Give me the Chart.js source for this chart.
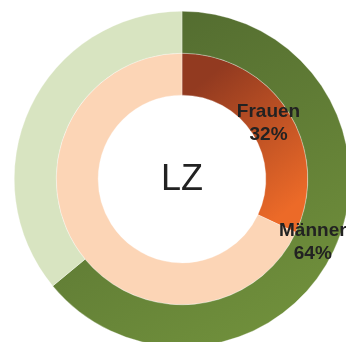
<!DOCTYPE html>
<html>
<head>
<meta charset="utf-8">
<script src="https://cdn.jsdelivr.net/npm/chart.js@4.4.1/dist/chart.umd.min.js"></script>
<style>
    html, body {
        margin: 0;
        padding: 0;
        width: 346px;
        height: 342px;
        overflow: hidden;
        background: #ffffff;
    }
    #ringChart {
        position: absolute;
        left: 14px;
        top: 11px;
    }
</style>
</head>
<body>
<canvas id="ringChart" width="336" height="336"></canvas>
<script>
// Share of men (outer ring) and women (inner ring)
const categories = ['Männer', 'Frauen'];
const menValues = [64, 36];
const womenValues = [32, 68];
const centerLabel = 'LZ';

const fontFamily = 'Arial, "Liberation Sans", Helvetica, sans-serif';

// Diagonal gradients for the highlighted segments
function greenFill(context) {
    const chart = context.chart;
    const area = chart.chartArea;
    if (!area) return '#62803a';
    if (context.dataIndex !== 0) return '#d8e4c1';
    const g = chart.ctx.createLinearGradient(area.left + 150, area.top, area.left + 320, area.top + 300);
    g.addColorStop(0, '#536c30');
    g.addColorStop(1, '#71913c');
    return g;
}

function orangeFill(context) {
    const chart = context.chart;
    const area = chart.chartArea;
    if (!area) return '#c8552a';
    if (context.dataIndex !== 0) return '#fcd5b6';
    const g = chart.ctx.createLinearGradient(area.left + 172, area.top + 84, area.left + 268, area.top + 204);
    g.addColorStop(0, '#923a20');
    g.addColorStop(1, '#ec6a28');
    return g;
}

// Label on the first segment of each ring: name + percentage
const segmentLabels = {
    id: 'segmentLabels',
    afterDatasetsDraw(chart) {
        const ctx = chart.ctx;
        const names = [categories[0], categories[1]];
        ctx.save();
        ctx.font = 'bold 19px ' + fontFamily;
        ctx.fillStyle = '#222222';
        ctx.textAlign = 'center';
        ctx.textBaseline = 'middle';
        chart.data.datasets.forEach((ds, i) => {
            const arc = chart.getDatasetMeta(i).data[0];
            const pos = arc.tooltipPosition();
            const x = pos.x - 2;
            ctx.fillText(names[i], x, pos.y - 11);
            ctx.fillText(ds.data[0] + '%', x, pos.y + 12);
        });

        // Center text
        const c = chart.getDatasetMeta(0).data[0];
        ctx.font = '36px ' + fontFamily;
        ctx.fillStyle = '#222222';
        ctx.fillText(centerLabel, c.x, c.y + 1);
        ctx.restore();
    }
};

const chart = new Chart(document.getElementById('ringChart').getContext('2d'), {
    type: 'doughnut',
    data: {
        labels: ['Anteil', 'Rest'],
        datasets: [
            {
                data: menValues,
                backgroundColor: greenFill,
                borderWidth: 0.5,
                borderColor: 'rgba(255,255,255,0.6)'
            },
            {
                data: womenValues,
                backgroundColor: orangeFill,
                borderWidth: 0.5,
                borderColor: 'rgba(255,255,255,0.6)'
            }
        ]
    },
    options: {
        responsive: false,
        animation: false,
        events: [],
        cutout: '50%',
        layout: { padding: 0 },
        plugins: {
            legend: { display: false },
            tooltip: { enabled: false }
        }
    },
    plugins: [segmentLabels]
});
</script>
</body>
</html>
